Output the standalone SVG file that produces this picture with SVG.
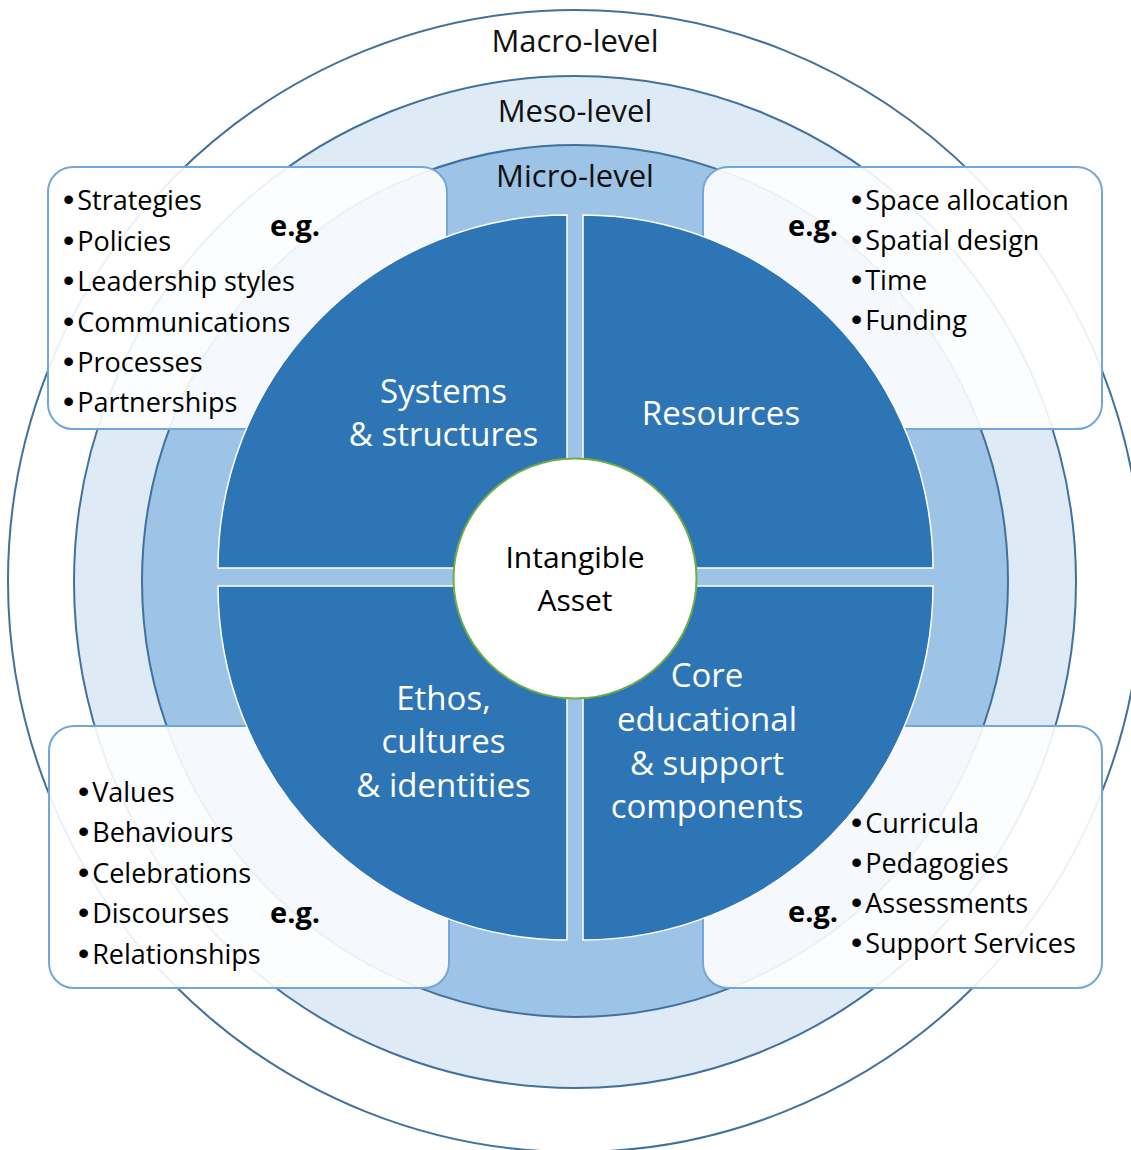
<svg xmlns="http://www.w3.org/2000/svg" width="1131" height="1150" viewBox="0 0 1131 1150">
<style>
.ring{stroke:#41719c;stroke-width:2}
.box{fill:#ffffff;fill-opacity:0.9;stroke:#72a7dc;stroke-width:2}
.quad{fill:#2e75b6;stroke:#ffffff;stroke-width:1.5}
.lvl{font-family:"Open Sans","Liberation Sans",sans-serif;font-size:31px;fill:#111;text-anchor:middle}
.item{font-family:"Open Sans","Liberation Sans",sans-serif;font-size:27px;fill:#000}
.b{font-family:"Liberation Sans",sans-serif;font-size:32px}
.eg{font-family:"Open Sans","Liberation Sans",sans-serif;font-size:29px;font-weight:bold;fill:#000}
.ql{font-family:"Open Sans","Liberation Sans",sans-serif;font-size:33px;fill:#ffffff;text-anchor:middle}
.ct{font-family:"Open Sans","Liberation Sans",sans-serif;font-size:30px;fill:#000;text-anchor:middle}
</style>
<rect width="1131" height="1150" fill="#ffffff"/>
<g id="macro">
<ellipse class="ring" cx="575" cy="581" rx="567" ry="571" fill="#ffffff"/>
<text class="lvl" x="575" y="52">Macro-level</text>
</g>
<g id="meso">
<ellipse class="ring" cx="575" cy="582" rx="501" ry="506" fill="#deebf7"/>
<text class="lvl" x="575" y="122">Meso-level</text>
</g>
<g id="micro">
<ellipse class="ring" cx="575" cy="581" rx="433" ry="436" fill="#9dc3e6"/>
<text class="lvl" x="575" y="187">Micro-level</text>
</g>
<g id="box-tl">
<rect class="box" x="48" y="167" width="399" height="262" rx="25"/>
<text class="item" x="63" y="210"><tspan class="b">•</tspan><tspan dx="3">Strategies</tspan></text>
<text class="item" x="63" y="250.5"><tspan class="b">•</tspan><tspan dx="3">Policies</tspan></text>
<text class="item" x="63" y="291"><tspan class="b">•</tspan><tspan dx="3">Leadership styles</tspan></text>
<text class="item" x="63" y="331.5"><tspan class="b">•</tspan><tspan dx="3">Communications</tspan></text>
<text class="item" x="63" y="372"><tspan class="b">•</tspan><tspan dx="3">Processes</tspan></text>
<text class="item" x="63" y="412"><tspan class="b">•</tspan><tspan dx="3">Partnerships</tspan></text>
<text class="eg" x="270" y="236">e.g.</text>
</g>
<g id="box-tr">
<rect class="box" x="703" y="167" width="399" height="262" rx="25"/>
<text class="eg" x="788" y="236">e.g.</text>
<text class="item" x="851" y="210"><tspan class="b">•</tspan><tspan dx="3">Space allocation</tspan></text>
<text class="item" x="851" y="250"><tspan class="b">•</tspan><tspan dx="3">Spatial design</tspan></text>
<text class="item" x="851" y="290"><tspan class="b">•</tspan><tspan dx="3">Time</tspan></text>
<text class="item" x="851" y="330"><tspan class="b">•</tspan><tspan dx="3">Funding</tspan></text>
</g>
<g id="box-bl">
<rect class="box" x="49" y="726" width="400" height="262" rx="25"/>
<text class="item" x="78" y="802"><tspan class="b">•</tspan><tspan dx="3">Values</tspan></text>
<text class="item" x="78" y="842"><tspan class="b">•</tspan><tspan dx="3">Behaviours</tspan></text>
<text class="item" x="78" y="882.5"><tspan class="b">•</tspan><tspan dx="3">Celebrations</tspan></text>
<text class="item" x="78" y="923"><tspan class="b">•</tspan><tspan dx="3">Discourses</tspan></text>
<text class="item" x="78" y="964"><tspan class="b">•</tspan><tspan dx="3">Relationships</tspan></text>
<text class="eg" x="270" y="923">e.g.</text>
</g>
<g id="box-br">
<rect class="box" x="703" y="726" width="399" height="262" rx="25"/>
<text class="eg" x="788" y="922">e.g.</text>
<text class="item" x="851" y="833"><tspan class="b">•</tspan><tspan dx="3">Curricula</tspan></text>
<text class="item" x="851" y="873"><tspan class="b">•</tspan><tspan dx="3">Pedagogies</tspan></text>
<text class="item" x="851" y="913"><tspan class="b">•</tspan><tspan dx="3">Assessments</tspan></text>
<text class="item" x="851" y="953"><tspan class="b">•</tspan><tspan dx="3">Support Services</tspan></text>
</g>
<g id="q-systems">
<path class="quad" d="M567,568 L218,568 A349,353 0 0 1 567,215 Z"/>
<text class="ql" x="443.5" y="403">Systems</text>
<text class="ql" x="443.5" y="446">&amp; structures</text>
</g>
<g id="q-resources">
<path class="quad" d="M583,568 L583,215 A350,353 0 0 1 933,568 Z"/>
<text class="ql" x="721" y="425">Resources</text>
</g>
<g id="q-ethos">
<path class="quad" d="M567,586 L567,940 A349,354 0 0 1 218,586 Z"/>
<text class="ql" x="443.5" y="710">Ethos,</text>
<text class="ql" x="443.5" y="753">cultures</text>
<text class="ql" x="443.5" y="797">&amp; identities</text>
</g>
<g id="q-core">
<path class="quad" d="M583,586 L933,586 A350,354 0 0 1 583,940 Z"/>
<text class="ql" x="707" y="687">Core</text>
<text class="ql" x="707" y="731">educational</text>
<text class="ql" x="707" y="775">&amp; support</text>
<text class="ql" x="707" y="818">components</text>
</g>
<g id="center">
<ellipse cx="575" cy="578.5" rx="121.5" ry="120" fill="#ffffff" stroke="#70ad47" stroke-width="2"/>
<text class="ct" x="575" y="568">Intangible</text>
<text class="ct" x="575" y="611">Asset</text>
</g>
<g id="connectors"/>
</svg>
